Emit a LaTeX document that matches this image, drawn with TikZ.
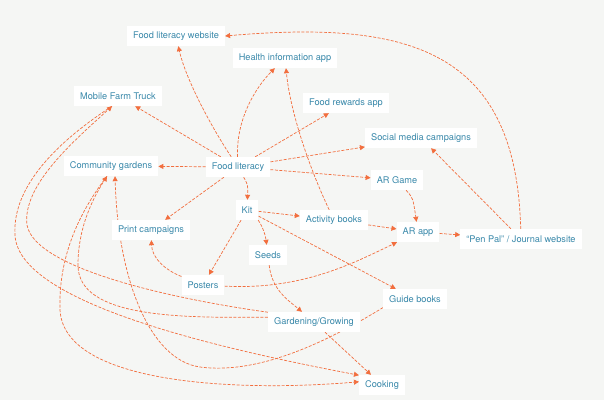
\documentclass[tikz,border=0pt]{standalone}
\usepackage{fontspec}
\setmainfont{TeX Gyre Heros}
\usetikzlibrary{arrows.meta}
\definecolor{paper}{RGB}{245,246,244}
\definecolor{boxtext}{RGB}{58,137,170}
\definecolor{linkorange}{RGB}{242,110,62}
\pgfdeclarelayer{back}
\pgfdeclarelayer{edges}
\pgfsetlayers{back,edges,main}

\begin{document}
\begin{tikzpicture}[x=1pt,y=-1pt,
  box/.style={fill=white,text=boxtext,font=\fontsize{9.2}{11}\selectfont,
    inner xsep=6pt,inner ysep=0pt,minimum height=20pt},
  link/.style={draw=linkorange,line width=0.7pt,dash pattern=on 3pt off 1.5pt,
    -{Triangle[length=5pt,width=5pt]}}]
  \begin{pgfonlayer}{back}
    \fill[paper] (0,0) rectangle (604,400);
  \end{pgfonlayer}
  \node[box] (flweb) at (176,36) {Food literacy website};
  \node[box] (healthapp) at (285,58) {Health information app};
  \node[box] (truck) at (118,96) {Mobile Farm Truck};
  \node[box] (rewards) at (346,103) {Food rewards app};
  \node[box] (social) at (421,138) {Social media campaigns};
  \node[box] (commgard) at (111,166) {Community gardens};
  \node[box] (foodlit) at (238,167) {Food literacy};
  \node[box] (argame) at (397,180) {AR Game};
  \node[box] (kit) at (247,210) {Kit};
  \node[box] (actbooks) at (334,220) {Activity books};
  \node[box] (print) at (151,230) {Print campaigns};
  \node[box] (arapp) at (418,232) {AR app};
  \node[box] (penpal) at (521,239) {“Pen Pal” / Journal website};
  \node[box] (seeds) at (268,255) {Seeds};
  \node[box] (posters) at (203,285) {Posters};
  \node[box] (guide) at (415,299) {Guide books};
  \node[box] (garden) at (314,322) {Gardening/Growing};
  \node[box] (cooking) at (382,385) {Cooking};

  \begin{pgfonlayer}{edges}
  \foreach \a/\b in {foodlit/truck, foodlit/commgard, foodlit/print, foodlit/rewards,
      foodlit/social, foodlit/argame, kit/actbooks, kit/posters, kit/guide,
      actbooks/arapp, arapp/penpal, penpal/social, garden/cooking}
    \draw[link] (\a) -- (\b);
  % bent links
  \draw[link] (foodlit) .. controls (212,128) and (186,80) .. (flweb);
  \draw[link] (foodlit) .. controls (236,120) and (255,88) .. (healthapp);
  \draw[link] (foodlit) .. controls (248,185) .. (kit);
  \draw[link] (kit) .. controls (260,222) and (265,232) .. (seeds);
  \draw[link] (actbooks) .. controls (308,165) and (290,110) .. (healthapp);
  \draw[link] (argame) .. controls (413,198) .. (arapp);
  \draw[link] (posters) .. controls (165,270) and (152,258) .. (print);
  \draw[link] (posters) .. controls (300,290) and (350,265) .. (arapp);
  \draw[link] (seeds) .. controls (272,290) and (288,300) .. (garden);
  \draw[link] (penpal) .. controls (516,50) and (410,20) .. (flweb.east);
  % long loops round the left side
  \draw[link] (guide.195) .. controls (330,340) and (260,375) .. (200,367)
    .. controls (150,360) and (118,280) .. ([xshift=4pt]commgard.south);
  \draw[link] (garden.174) .. controls (180,318) and (78,318) .. (78,265)
    .. controls (78,225) and (95,195) .. ([xshift=-4pt]commgard.south);
  \draw[link] (garden.168) .. controls (180,300) and (35,270) .. (27,225)
    .. controls (22,185) and (75,140) .. ([xshift=-6pt]truck.south);
  \draw[link] ([xshift=-6pt]truck.south) .. controls (60,140) and (12,185) .. (15,235)
    .. controls (18,300) and (200,345) .. (cooking.157);
  \draw[link] ([xshift=-4pt]commgard.south) .. controls (85,205) and (58,250) .. (60,310)
    .. controls (64,385) and (240,392) .. (cooking.172);
  \end{pgfonlayer}
\end{tikzpicture}
\end{document}
